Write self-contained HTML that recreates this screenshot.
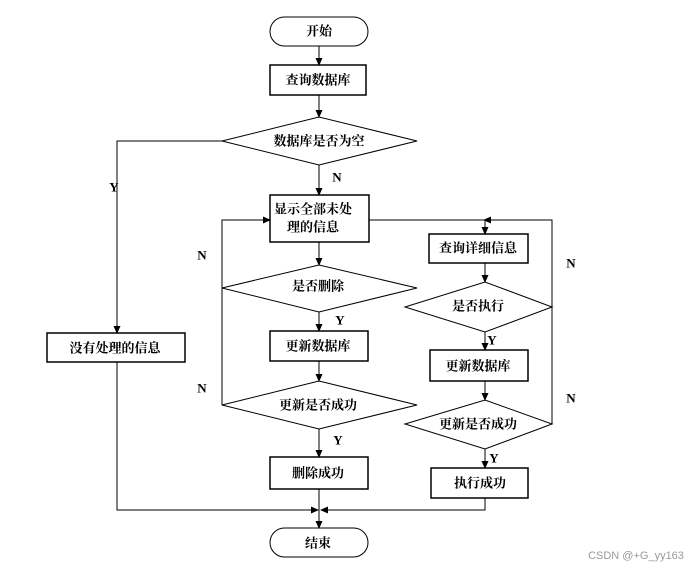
<!DOCTYPE html>
<html><head><meta charset="utf-8"><style>
body{margin:0;background:#fff}
svg text{font-family:"Liberation Serif","Noto Serif CJK SC",serif;font-weight:bold;font-size:13px;text-anchor:middle;dominant-baseline:central}
</style></head><body>
<svg width="700" height="568" viewBox="0 0 700 568" xmlns="http://www.w3.org/2000/svg">
<defs><marker id="a" markerWidth="8" markerHeight="8" refX="7" refY="4" orient="auto" markerUnits="userSpaceOnUse"><path d="M0,0.5 L8,4 L0,7.5z" fill="#000"/></marker></defs>
<g fill="none" stroke="#000" stroke-width="1">
<rect x="270" y="17" width="98" height="29" rx="14.5"/>
<rect x="270" y="65" width="96" height="30" stroke-width="1.5"/>
<polygon points="222,141 319,117 417,141 319,165"/>
<rect x="270" y="195" width="99" height="47" stroke-width="1.5"/>
<rect x="429" y="234" width="99" height="29" stroke-width="1.5"/>
<polygon points="222,288 319,265 417,288 319,312"/>
<polygon points="405,307 485,282 552,307 485,332"/>
<rect x="270" y="331" width="98" height="30" stroke-width="1.5"/>
<rect x="430" y="350" width="98" height="31" stroke-width="1.5"/>
<polygon points="222,405 319,381 417,405 319,429"/>
<polygon points="405,424 485,400 552,424 485,449"/>
<rect x="270" y="457" width="98" height="32" stroke-width="1.5"/>
<rect x="431" y="468" width="97" height="30" stroke-width="1.5"/>
<rect x="270" y="528" width="98" height="29" rx="14.5"/>
<rect x="47" y="333" width="138" height="29" stroke-width="1.5"/>
<path d="M319,46 V65" marker-end="url(#a)"/>
<path d="M319,95 V117" marker-end="url(#a)"/>
<path d="M319,165 V195" marker-end="url(#a)"/>
<path d="M319,242 V265" marker-end="url(#a)"/>
<path d="M319,312 V331" marker-end="url(#a)"/>
<path d="M319,361 V381" marker-end="url(#a)"/>
<path d="M319,429 V457" marker-end="url(#a)"/>
<path d="M319,489 V528" marker-end="url(#a)"/>
<path d="M222,141 H117 V333" marker-end="url(#a)"/>
<path d="M117,362 V510 H318" marker-end="url(#a)"/>
<path d="M485,498 V510 H321" marker-end="url(#a)"/>
<path d="M222,405 V220 H270" marker-end="url(#a)"/>
<path d="M369,220 H485 V234" marker-end="url(#a)"/>
<path d="M552,424 V220 H484" marker-end="url(#a)"/>
<path d="M485,263 V282" marker-end="url(#a)"/>
<path d="M485,332 V350" marker-end="url(#a)"/>
<path d="M485,381 V400" marker-end="url(#a)"/>
<path d="M485,449 V468" marker-end="url(#a)"/>
</g>
<text x="319" y="31">开始</text>
<text x="318" y="80">查询数据库</text>
<text x="319" y="141">数据库是否为空</text>
<text x="313" y="209">显示全部未处</text>
<text x="313" y="227">理的信息</text>
<text x="478" y="248">查询详细信息</text>
<text x="318" y="286">是否删除</text>
<text x="478" y="306">是否执行</text>
<text x="318" y="346">更新数据库</text>
<text x="478" y="366">更新数据库</text>
<text x="318" y="405">更新是否成功</text>
<text x="478" y="424">更新是否成功</text>
<text x="318" y="473">删除成功</text>
<text x="480" y="483">执行成功</text>
<text x="318" y="543">结束</text>
<text x="115" y="348">没有处理的信息</text>
<text x="337" y="177">N</text>
<text x="114" y="187">Y</text>
<text x="202" y="255">N</text>
<text x="202" y="388">N</text>
<text x="340" y="320">Y</text>
<text x="338" y="440">Y</text>
<text x="492" y="340">Y</text>
<text x="494" y="458">Y</text>
<text x="571" y="263">N</text>
<text x="571" y="398">N</text>
<text x="636" y="556" style="font-family:'Liberation Sans',sans-serif;font-weight:normal;font-size:11px;fill:#999">CSDN @+G_yy163</text>
</svg>
</body></html>
